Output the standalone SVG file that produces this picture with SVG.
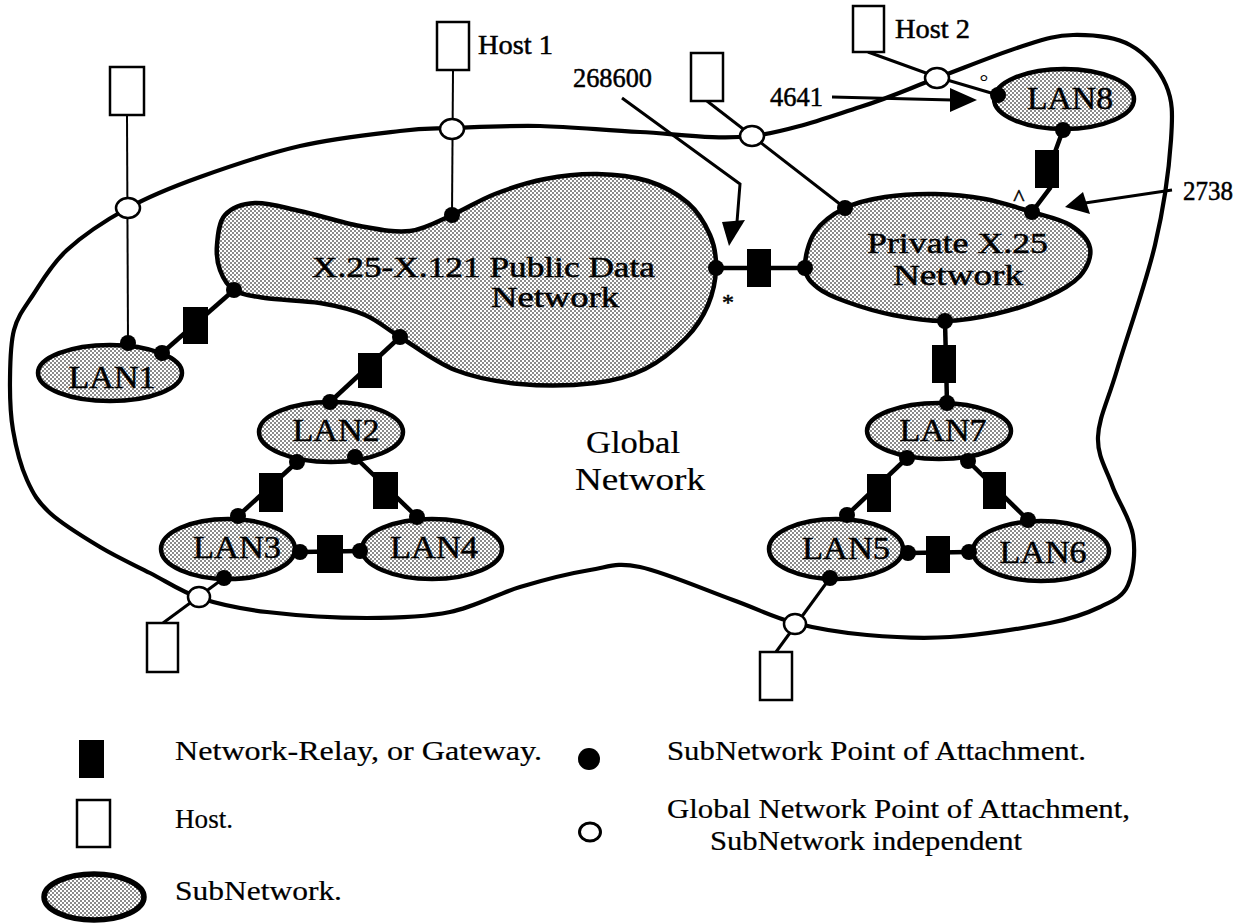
<svg xmlns="http://www.w3.org/2000/svg" width="1249" height="924" viewBox="0 0 1249 924">
<style>
.sub{fill:url(#dots);stroke:#000;stroke-width:4.5}
.glob{fill:none;stroke:#000;stroke-width:4.2}
.relay{fill:#000}
.host{fill:#fff;stroke:#000;stroke-width:2.5}
.dot{fill:#000}
.gpa{fill:#fff;stroke:#000;stroke-width:2.5}
.link{stroke:#000;stroke-width:4.5;fill:none}
.thin{stroke:#000;stroke-width:2;fill:none}
.hl{stroke:#000;stroke-width:3;fill:none}
.arr{stroke:#000;stroke-width:3;fill:none}
text{font-family:"Liberation Serif","DejaVu Serif",serif;fill:#000}
.lab{font-size:32px;stroke:#000;stroke-width:0.5}
.sm{font-size:27px;stroke:#000;stroke-width:0.5}
.leg{font-size:27px;stroke:#000;stroke-width:0.2}
</style>
<defs>
<pattern id="dots" width="4" height="4" patternUnits="userSpaceOnUse">
<rect width="4" height="4" fill="#fff"/>
<rect width="2" height="2" fill="#8a8a8a"/>
<rect x="2" y="2" width="2" height="2" fill="#8a8a8a"/>
</pattern>
</defs>

<g id="global-network">
<path class="glob" d="M128,208 C150.2,195.8 171.3,187.3 200,177 C228.7,166.7 266.7,153.7 300,146 C333.3,138.3 374.7,134 400,131 C425.3,128 428.7,128.8 452,128 C475.3,127.2 508.7,125.3 540,126 C571.3,126.7 604.7,130.3 640,132 C675.3,133.7 715.3,140.2 752,136 C788.7,131.8 829.2,116.7 860,107 C890.8,97.3 910.3,88 937,78 C963.7,68 997.3,54.2 1020,47 C1042.7,39.8 1054.7,35.3 1073,35 C1091.3,34.7 1114.5,36.7 1130,45 C1145.5,53.3 1159.2,69.2 1166,85 C1172.8,100.8 1172.8,113.3 1171,140 C1169.2,166.7 1164,206.7 1155,245 C1146,283.3 1126.5,338 1117,370 C1107.5,402 1098.8,417.8 1098,437 C1097.2,456.2 1106.2,468.7 1112,485 C1117.8,501.3 1130.3,518.3 1133,535 C1135.7,551.7 1133.5,573 1128,585 C1122.5,597 1113,600.7 1100,607 C1087,613.3 1075,618 1050,623 C1025,628 980.5,635 950,637 C919.5,639 892.8,637.3 867,635 C841.2,632.7 817.3,628.8 795,623 C772.7,617.2 758.8,609.3 733,600 C707.2,590.7 663.8,572 640,567 C616.2,562 610,566.7 590,570 C570,573.3 543.3,580 520,587 C496.7,594 475.5,606.8 450,612 C424.5,617.2 397.5,618 367,618 C336.5,618 294.8,615.3 267,612 C239.2,608.7 219.5,604.5 200,598 C180.5,591.5 166.7,581.5 150,573 C133.3,564.5 116.7,557 100,547 C83.3,537 62.2,524.2 50,513 C37.8,501.8 33.2,493.8 27,480 C20.8,466.2 15.8,446.7 13,430 C10.2,413.3 9.8,396.7 10,380 C10.2,363.3 10.2,344.2 14,330 C17.8,315.8 24.2,308.3 33,295 C41.8,281.7 51.2,264.5 67,250 C82.8,235.5 105.8,220.2 128,208 Z"/>
<text class="lab" x="586" y="453" textLength="94" lengthAdjust="spacingAndGlyphs" style="stroke-width:0.2">Global</text>
<text class="lab" x="575" y="490" textLength="130" lengthAdjust="spacingAndGlyphs" style="stroke-width:0.2">Network</text>
</g>

<g id="connectors">
<line class="thin" x1="127" y1="115" x2="128" y2="343"/>
<line class="thin" x1="453" y1="70" x2="452" y2="215"/>
<line class="hl" x1="707" y1="101" x2="845" y2="208"/>
<polyline class="hl" points="868,52 937,77 998,95"/>
<line class="hl" x1="163" y1="623" x2="224" y2="578"/>
<line class="hl" x1="776" y1="652" x2="830" y2="578"/>
<line class="link" x1="162" y1="353" x2="234" y2="290"/>
<line class="link" x1="400" y1="337" x2="330" y2="402"/>
<line class="link" x1="297" y1="462" x2="238" y2="516"/>
<line class="link" x1="355" y1="457" x2="417" y2="517"/>
<line class="link" x1="300" y1="552" x2="360" y2="551"/>
<line class="link" x1="716" y1="268" x2="805" y2="268"/>
<line class="link" x1="945" y1="321" x2="947" y2="403"/>
<polyline class="link" points="1063,130 1055,152 1050,188 1032,212"/>
<line class="link" x1="907" y1="458" x2="847" y2="515"/>
<line class="link" x1="968" y1="461" x2="1028" y2="520"/>
<line class="link" x1="908" y1="553" x2="969" y2="552"/>
<polyline class="arr" points="622,98 740,184 737,222"/>
<polygon points="722,222 745,220 729,246" fill="#000"/>
<line class="arr" x1="832" y1="97" x2="952" y2="100"/>
<polygon points="977,100 950,88 950,112" fill="#000"/>
<line class="arr" x1="1172" y1="190" x2="1085" y2="203"/>
<polygon points="1065,207 1083,192 1090,214" fill="#000"/>
</g>

<g id="public-data-network">
<path class="sub" d="M217,245 C217.8,235.8 218.7,222 225,215 C231.3,208 242.5,203.7 255,203 C267.5,202.3 282.5,207.2 300,211 C317.5,214.8 341.7,222.7 360,226 C378.3,229.3 394.7,232.8 410,231 C425.3,229.2 437.8,221.2 452,215 C466.2,208.8 479.5,200 495,194 C510.5,188 528,182.3 545,179 C562,175.7 579.8,173.7 597,174 C614.2,174.3 632.8,176.2 648,181 C663.2,185.8 677.7,194 688,203 C698.3,212 705.3,224.2 710,235 C714.7,245.8 716.3,256.3 716,268 C715.7,279.7 713,293.3 708,305 C703,316.7 696.5,327.3 686,338 C675.5,348.7 660.2,361.5 645,369 C629.8,376.5 615.8,380.5 595,383 C574.2,385.5 543.3,386.2 520,384 C496.7,381.8 475,377.8 455,370 C435,362.2 415,346.2 400,337 C385,327.8 378.3,320.7 365,315 C351.7,309.3 336.7,305.8 320,303 C303.3,300.2 279.3,300.2 265,298 C250.7,295.8 241.5,294.7 234,290 C226.5,285.3 222.8,277.5 220,270 C217.2,262.5 216.2,254.2 217,245 Z"/>
<text class="lab" x="312" y="277" textLength="343" lengthAdjust="spacingAndGlyphs" style="font-size:29px">X.25-X.121 Public Data</text>
<text class="lab" x="491" y="307" textLength="128" lengthAdjust="spacingAndGlyphs" style="font-size:29px">Network</text>
<circle class="dot" cx="452" cy="215" r="8"/>
<circle class="dot" cx="716" cy="268" r="8"/>
<circle class="dot" cx="234" cy="290" r="8"/>
<circle class="dot" cx="400" cy="337" r="8"/>
<text class="sm" x="728" y="310" text-anchor="middle" style="font-size:24px">*</text>
</g>

<g id="private-x25-network">
<path class="sub" d="M805,268 C804.5,258.7 808.3,242 815,232 C821.7,222 833.3,213.8 845,208 C856.7,202.2 870,199.3 885,197 C900,194.7 918.3,193.7 935,194 C951.7,194.3 968.8,196 985,199 C1001.2,202 1017.8,207.7 1032,212 C1046.2,216.3 1060.3,219 1070,225 C1079.7,231 1088.3,239.5 1090,248 C1091.7,256.5 1087.5,267.7 1080,276 C1072.5,284.3 1059.2,291.7 1045,298 C1030.8,304.3 1011.7,310.2 995,314 C978.3,317.8 962,320.8 945,321 C928,321.2 909.3,318.2 893,315 C876.7,311.8 859.5,306.5 847,302 C834.5,297.5 825,293.7 818,288 C811,282.3 805.5,277.3 805,268 Z"/>
<text class="lab" x="867" y="253" textLength="181" lengthAdjust="spacingAndGlyphs" style="font-size:30px">Private X.25</text>
<text class="lab" x="893" y="285" textLength="130" lengthAdjust="spacingAndGlyphs" style="font-size:30px">Network</text>
<circle class="dot" cx="805" cy="268" r="8"/>
<circle class="dot" cx="845" cy="208" r="8"/>
<circle class="dot" cx="1032" cy="212" r="8"/>
<circle class="dot" cx="945" cy="321" r="8"/>
<text class="sm" x="1019" y="205" text-anchor="middle" style="font-size:24px">^</text>
</g>

<g id="lan1">
<ellipse class="sub" cx="110" cy="373" rx="72" ry="28"/>
<text class="lab" x="112" y="388" text-anchor="middle" textLength="87" lengthAdjust="spacingAndGlyphs">LAN1</text>
<circle class="dot" cx="128" cy="343" r="8"/>
<circle class="dot" cx="162" cy="353" r="8"/>
</g>
<g id="lan2">
<ellipse class="sub" cx="331" cy="432" rx="72" ry="30"/>
<text class="lab" x="336" y="441" text-anchor="middle" textLength="87" lengthAdjust="spacingAndGlyphs">LAN2</text>
<circle class="dot" cx="330" cy="402" r="8"/>
<circle class="dot" cx="297" cy="462" r="8"/>
<circle class="dot" cx="355" cy="457" r="8"/>
</g>
<g id="lan3">
<ellipse class="sub" cx="228" cy="549" rx="67" ry="30"/>
<text class="lab" x="237" y="558" text-anchor="middle" textLength="88" lengthAdjust="spacingAndGlyphs">LAN3</text>
<circle class="dot" cx="238" cy="516" r="8"/>
<circle class="dot" cx="300" cy="552" r="8"/>
<circle class="dot" cx="224" cy="578" r="8"/>
</g>
<g id="lan4">
<ellipse class="sub" cx="432" cy="549" rx="70" ry="30"/>
<text class="lab" x="434" y="558" text-anchor="middle" textLength="88" lengthAdjust="spacingAndGlyphs">LAN4</text>
<circle class="dot" cx="417" cy="517" r="8"/>
<circle class="dot" cx="360" cy="551" r="8"/>
</g>
<g id="lan5">
<ellipse class="sub" cx="836" cy="549" rx="67" ry="30"/>
<text class="lab" x="846" y="559" text-anchor="middle" textLength="88" lengthAdjust="spacingAndGlyphs">LAN5</text>
<circle class="dot" cx="847" cy="515" r="8"/>
<circle class="dot" cx="908" cy="553" r="8"/>
<circle class="dot" cx="830" cy="578" r="8"/>
</g>
<g id="lan6">
<ellipse class="sub" cx="1041" cy="551" rx="68" ry="30"/>
<text class="lab" x="1043" y="563" text-anchor="middle" textLength="87" lengthAdjust="spacingAndGlyphs">LAN6</text>
<circle class="dot" cx="1028" cy="520" r="8"/>
<circle class="dot" cx="969" cy="552" r="8"/>
</g>
<g id="lan7">
<ellipse class="sub" cx="939" cy="431" rx="72" ry="28"/>
<text class="lab" x="943" y="441" text-anchor="middle" textLength="87" lengthAdjust="spacingAndGlyphs">LAN7</text>
<circle class="dot" cx="947" cy="403" r="8"/>
<circle class="dot" cx="907" cy="458" r="8"/>
<circle class="dot" cx="968" cy="461" r="8"/>
</g>
<g id="lan8">
<ellipse class="sub" cx="1064" cy="99" rx="70" ry="30"/>
<text class="lab" x="1070" y="109" text-anchor="middle" textLength="86" lengthAdjust="spacingAndGlyphs">LAN8</text>
<circle class="dot" cx="998" cy="95" r="8"/>
<circle class="dot" cx="1063" cy="130" r="8"/>
<text class="sm" x="984" y="89" text-anchor="middle" style="font-size:22px;stroke-width:0">°</text>
</g>

<g id="relays">
<rect class="relay" x="183" y="307" width="25" height="37"/>
<rect class="relay" x="358" y="353" width="24" height="35"/>
<rect class="relay" x="259" y="473" width="24" height="39"/>
<rect class="relay" x="373" y="472" width="25" height="37"/>
<rect class="relay" x="317" y="535" width="26" height="38"/>
<rect class="relay" x="747" y="249" width="24" height="38"/>
<rect class="relay" x="932" y="345" width="24" height="38"/>
<rect class="relay" x="1035" y="150" width="24" height="38"/>
<rect class="relay" x="867" y="474" width="24" height="38"/>
<rect class="relay" x="983" y="472" width="23" height="37"/>
<rect class="relay" x="926" y="536" width="24" height="37"/>
</g>

<g id="global-attachments">
<ellipse class="gpa" cx="128" cy="208" rx="12" ry="10"/>
<ellipse class="gpa" cx="452" cy="129" rx="12" ry="10"/>
<ellipse class="gpa" cx="752" cy="136" rx="12" ry="10"/>
<ellipse class="gpa" cx="937" cy="78" rx="12" ry="10"/>
<ellipse class="gpa" cx="199" cy="597" rx="11" ry="10"/>
<ellipse class="gpa" cx="795" cy="624" rx="11" ry="10"/>
</g>

<g id="host-left">
<rect class="host" x="110" y="67" width="34" height="48"/>
</g>
<g id="host-1">
<rect class="host" x="437" y="22" width="32" height="48"/>
<text class="sm" x="478" y="54" textLength="75" lengthAdjust="spacingAndGlyphs" style="font-size:28px">Host 1</text>
</g>
<g id="host-mid">
<rect class="host" x="691" y="53" width="32" height="48"/>
</g>
<g id="host-2">
<rect class="host" x="853" y="6" width="31" height="46"/>
<text class="sm" x="895" y="38" textLength="75" lengthAdjust="spacingAndGlyphs" style="font-size:28px">Host 2</text>
</g>
<g id="host-bottom-left">
<rect class="host" x="147" y="623" width="31" height="49"/>
</g>
<g id="host-bottom-right">
<rect class="host" x="760" y="652" width="32" height="48"/>
</g>

<g id="annotations">
<text class="sm" x="573" y="87" textLength="79" lengthAdjust="spacingAndGlyphs">268600</text>
<text class="sm" x="770" y="106" textLength="53" lengthAdjust="spacingAndGlyphs">4641</text>
<text class="sm" x="1183" y="200" textLength="50" lengthAdjust="spacingAndGlyphs">2738</text>
</g>

<g id="legend">
<rect class="relay" x="79" y="740" width="25" height="38"/>
<text class="leg" x="175" y="760" textLength="367" lengthAdjust="spacingAndGlyphs">Network-Relay, or Gateway.</text>
<rect class="host" x="77" y="800" width="33" height="47"/>
<text class="leg" x="175" y="828" textLength="58" lengthAdjust="spacingAndGlyphs">Host.</text>
<ellipse class="sub" cx="94" cy="897" rx="50" ry="23" style="stroke-width:5.5"/>
<text class="leg" x="175" y="900" textLength="167" lengthAdjust="spacingAndGlyphs">SubNetwork.</text>
<circle class="dot" cx="589" cy="759" r="11"/>
<text class="leg" x="667" y="760" textLength="419" lengthAdjust="spacingAndGlyphs">SubNetwork Point of Attachment.</text>
<ellipse class="gpa" cx="590" cy="832" rx="10.5" ry="9" style="stroke-width:3"/>
<text class="leg" x="667" y="818" textLength="463" lengthAdjust="spacingAndGlyphs">Global Network Point of Attachment,</text>
<text class="leg" x="710" y="850" textLength="312" lengthAdjust="spacingAndGlyphs">SubNetwork independent</text>
</g>
</svg>
